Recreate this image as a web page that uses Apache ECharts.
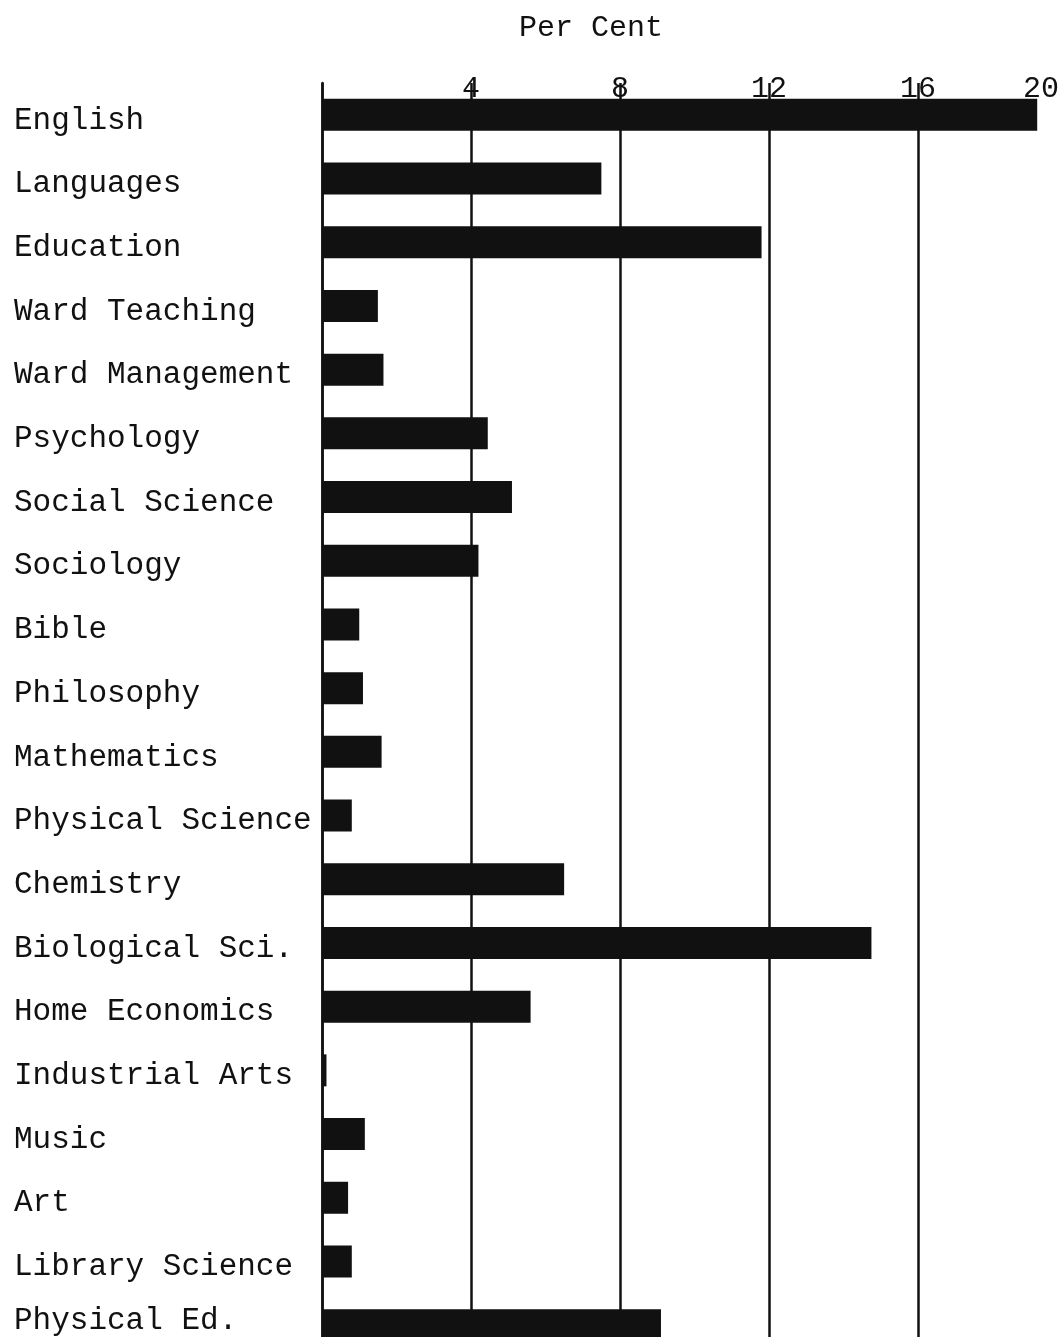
<!DOCTYPE html>
<html>
<head>
<meta charset="utf-8">
<script src="https://cdn.jsdelivr.net/npm/echarts@6/dist/echarts.min.js"></script>
<style>
  html, body { margin: 0; padding: 0; background: #fff; }
  #chart { width: 1060px; height: 1337px; }
</style>
</head>
<body>
<div id="chart"></div>
<script>
var subjects = ['English', 'Languages', 'Education', 'Ward Teaching', 'Ward Management',
    'Psychology', 'Social Science', 'Sociology', 'Bible', 'Philosophy', 'Mathematics',
    'Physical Science', 'Chemistry', 'Biological Sci.', 'Home Economics', 'Industrial Arts',
    'Music', 'Art', 'Library Science', 'Physical Ed.'];
var perCent = [19.2, 7.5, 11.8, 1.5, 1.65, 4.45, 5.1, 4.2, 1.0, 1.1, 1.6,
    0.8, 6.5, 14.75, 5.6, 0.12, 1.15, 0.7, 0.8, 9.1];
var tickValues = [4, 8, 12, 16, 20];

var font = '"Liberation Mono", "DejaVu Sans Mono", monospace';
var ink = '#111';

var chart = echarts.init(document.getElementById('chart'));
chart.setOption({
    backgroundColor: '#fff',
    animation: false,
    title: {
        text: 'Per Cent',
        left: 514,
        top: 8,
        textStyle: { fontFamily: font, fontSize: 30, fontWeight: 'normal', color: ink }
    },
    // the hand-drawn grid runs past the right and bottom edges of the page
    grid: { left: 322, top: 83, width: 745, height: 1274, outerBoundsMode: 'none' },
    xAxis: {
        type: 'value',
        position: 'top',
        min: 0,
        max: 20,
        interval: 4,
        axisLine: { show: false },
        axisTick: { show: false },
        axisLabel: {
            margin: -21,
            fontFamily: font,
            fontSize: 30,
            color: ink,
            formatter: function (v) {
                if (tickValues.indexOf(v) < 0) return '';
                return v === 20 ? '{edge|20}' : String(v);
            },
            rich: {
                edge: { fontFamily: font, fontSize: 30, color: ink, padding: [0, 52, 0, 0] }
            }
        },
        splitLine: { show: true, lineStyle: { color: ink, width: 2.5 } }
    },
    yAxis: {
        type: 'category',
        inverse: true,
        data: subjects,
        axisLine: { show: true, lineStyle: { color: ink, width: 2.5 } },
        axisTick: { show: false },
        axisLabel: {
            align: 'left',
            margin: 308,
            fontFamily: font,
            fontSize: 31,
            color: ink,
            formatter: function (v, i) {
                // last line was typed a bit higher, right at the page edge
                return (i === subjects.length - 1 ? '{e|' : '{s|') + v + '}';
            },
            rich: {
                // typed labels sit a little below the bar centres
                s: { fontFamily: font, fontSize: 31, color: ink, padding: [11, 0, 0, 0] },
                e: { fontFamily: font, fontSize: 31, color: ink, padding: [0, 0, 9, 0] }
            }
        }
    },
    series: [{
        type: 'bar',
        data: perCent,
        barWidth: 32,
        itemStyle: { color: ink }
    }]
});
</script>
</body>
</html>
